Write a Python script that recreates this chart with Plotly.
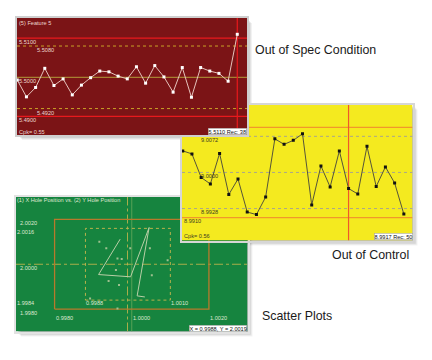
import plotly.graph_objects as go

# ---------------- data ----------------
# Panel 1: Out of Spec Condition (red)
red_records = list(range(14, 39))
red_values = [5.4993, 5.4950, 5.4974, 5.5023, 5.4979, 5.4996, 5.4955, 5.4980, 5.4999,
              5.5016, 5.5014, 5.5003, 5.4996, 5.5027, 5.4985, 5.5030, 5.5001, 5.4962,
              5.5025, 5.4949, 5.5025, 5.5016, 5.5010, 5.4990, 5.5110]
red_usl, red_ucl, red_center, red_lcl, red_lsl = 5.5100, 5.5080, 5.5000, 5.4920, 5.4900
red_cursor = 38
red_xrange = [13.97, 39.06]
red_yrange = [5.48524, 5.51517]
red_title = "(5) Feature 5"
red_cpk = "Cpk= 0.55"
red_readout = "5.5110 Rec: 38"

# Panel 2: Out of Control (yellow)
yel_records = list(range(26, 51))
yel_values = [9.0043, 9.0037, 8.9990, 8.9977, 9.0038, 8.9956, 8.9987, 8.9921, 8.9916,
              8.9951, 9.0067, 9.0056, 9.0064, 9.0077, 8.9935, 9.0013, 8.9971, 9.0043,
              8.9968, 8.9957, 9.0052, 8.9972, 9.0011, 8.9979, 8.9917]
yel_usl, yel_ucl, yel_center, yel_lcl, yel_lsl = 9.0090, 9.0072, 9.0000, 8.9928, 8.9910
yel_cursor = 44
yel_xrange = [25.92, 50.94]
yel_yrange = [8.98643, 9.01355]
yel_cpk = "Cpk= 0.56"
yel_readout = "8.9917 Rec: 50"

# Panel 3: Scatter Plots (green)
grn_path_x = [0.99970, 0.99914, 0.99997, 1.00045, 1.00014, 1.00034]
grn_path_y = [2.00112, 1.99954, 1.99944, 2.00164, 1.99859, 1.99854]
grn_pts_x = [0.99916, 0.99934, 0.99963, 0.99974, 0.99996, 1.00047, 0.99959, 0.99940,
             0.99967, 1.00052, 1.00093, 0.99892, 0.99963]
grn_pts_y = [2.00100, 2.00071, 2.00026, 2.00023, 2.00071, 2.00071, 1.99974, 1.99925,
             1.99907, 1.99951, 2.00018, 1.99847, 1.99803]
grn_spec_x = [0.9980, 1.0020]
grn_spec_y = [1.9980, 2.0020]
grn_ctrl_x = [0.9988, 1.0010]
grn_ctrl_y = [1.9984, 2.0016]
grn_mean_x = 0.99989
grn_nom_x = 1.0000
grn_center_y = 2.0000
grn_xrange = [0.997, 1.003]
grn_yrange = [1.997, 2.003]
grn_title = "(1) X Hole Position vs. (2) Y Hole Position"
grn_readout = "X = 0.9988, Y = 2.0019"

captions = ["Out of Spec Condition", "Out of Control", "Scatter Plots"]

# ---------------- layout helpers ----------------
W, H = 432, 360
# panel pixel boxes (left, top, right, bottom)
box_grn = (16, 197, 247.5, 331.5)
box_yel = (182, 104.5, 412.5, 240.5)
box_red = (17, 18, 247, 135)


def dom(b):
    return [b[0] / W, b[2] / W], [1 - b[3] / H, 1 - b[1] / H]


fig = go.Figure()

TINY = dict(family="Liberation Sans", size=5.6)


def hline(xa, ya, xr, y, color, dash="solid", width=1):
    fig.add_trace(go.Scatter(x=[xr[0], xr[1]], y=[y, y], mode="lines", xaxis=xa, yaxis=ya,
                             line=dict(color=color, dash=dash, width=width),
                             hoverinfo="skip", showlegend=False))


def vline(xa, ya, yr, x, color, dash="solid", width=1):
    fig.add_trace(go.Scatter(x=[x, x], y=[yr[0], yr[1]], mode="lines", xaxis=xa, yaxis=ya,
                             line=dict(color=color, dash=dash, width=width),
                             hoverinfo="skip", showlegend=False))


# ---------- green scatter panel (bottom of stack) ----------
g_ctrl_color = "#b9b24c"
hline("x", "y", grn_xrange, grn_center_y, g_ctrl_color, "dashdot", 0.9)
vline("x", "y", grn_yrange, grn_mean_x, g_ctrl_color, "dashdot", 0.9)
vline("x", "y", grn_yrange, grn_nom_x, "#5da559", "solid", 0.9)
fig.add_trace(go.Scatter(x=[grn_spec_x[0], grn_spec_x[1], grn_spec_x[1], grn_spec_x[0], grn_spec_x[0]],
                         y=[grn_spec_y[0], grn_spec_y[0], grn_spec_y[1], grn_spec_y[1], grn_spec_y[0]],
                         mode="lines", line=dict(color="#b8792c", width=1.3), xaxis="x", yaxis="y",
                         hoverinfo="skip", showlegend=False))
fig.add_trace(go.Scatter(x=[grn_ctrl_x[0], grn_ctrl_x[1], grn_ctrl_x[1], grn_ctrl_x[0], grn_ctrl_x[0]],
                         y=[grn_ctrl_y[0], grn_ctrl_y[0], grn_ctrl_y[1], grn_ctrl_y[1], grn_ctrl_y[0]],
                         mode="lines", line=dict(color=g_ctrl_color, width=1, dash="dot"), xaxis="x", yaxis="y",
                         hoverinfo="skip", showlegend=False))
fig.add_trace(go.Scatter(x=grn_path_x, y=grn_path_y, mode="lines", xaxis="x", yaxis="y",
                         line=dict(color="#b9cfa6", width=1), hoverinfo="skip", showlegend=False))
fig.add_trace(go.Scatter(x=grn_pts_x, y=grn_pts_y, mode="markers", xaxis="x", yaxis="y",
                         marker=dict(color="#9fc08f", size=2, symbol="square"),
                         hoverinfo="skip", showlegend=False))

# ---------- yellow control chart ----------
hline("x2", "y2", yel_xrange, yel_usl, "#f1982a", width=1.2)
hline("x2", "y2", yel_xrange, yel_lsl, "#f1982a", width=1.2)
for v in (yel_ucl, yel_center, yel_lcl):
    hline("x2", "y2", yel_xrange, v, "#a9a68a", "dot", 1)
vline("x2", "y2", yel_yrange, yel_cursor, "#f0582a", width=1.2)
fig.add_trace(go.Scatter(x=yel_records, y=yel_values, mode="lines+markers", xaxis="x2", yaxis="y2",
                         line=dict(color="#55543a", width=1),
                         marker=dict(color="#111111", size=3, symbol="square"),
                         hoverinfo="skip", showlegend=False))

# ---------- red out-of-spec chart (top of stack) ----------
hline("x3", "y3", red_xrange, red_usl, "#e8191d", width=1.2)
hline("x3", "y3", red_xrange, red_lsl, "#e8191d", width=1.2)
hline("x3", "y3", red_xrange, red_ucl, "#c9a227", "dot", 1)
hline("x3", "y3", red_xrange, red_lcl, "#c9a227", "dot", 1)
hline("x3", "y3", red_xrange, red_center, "#b39b3a", width=1)
vline("x3", "y3", red_yrange, red_cursor, "#e8191d", width=1.2)
fig.add_trace(go.Scatter(x=red_records, y=red_values, mode="lines+markers", xaxis="x3", yaxis="y3",
                         line=dict(color="#e6c3bc", width=1),
                         marker=dict(color="#ffffff", size=3, symbol="square"),
                         hoverinfo="skip", showlegend=False))

# ---------------- axes ----------------
axis_common = dict(showgrid=False, zeroline=False, showticklabels=False, ticks="",
                   showline=True, mirror=True, fixedrange=True)
gx, gy = dom(box_grn)
yx, yy = dom(box_yel)
rx, ry = dom(box_red)
fig.update_layout(
    xaxis=dict(domain=gx, range=grn_xrange, anchor="y", linecolor="#e2e2e2", linewidth=2, **axis_common),
    yaxis=dict(domain=gy, range=grn_yrange, anchor="x", linecolor="#e2e2e2", linewidth=2, **axis_common),
    xaxis2=dict(domain=yx, range=yel_xrange, anchor="y2", linecolor="#d6d6d6", linewidth=2, **axis_common),
    yaxis2=dict(domain=yy, range=yel_yrange, anchor="x2", linecolor="#d6d6d6", linewidth=2, **axis_common),
    xaxis3=dict(domain=rx, range=red_xrange, anchor="y3", linecolor="#cfcfcf", linewidth=2, **axis_common),
    yaxis3=dict(domain=ry, range=red_yrange, anchor="x3", linecolor="#cfcfcf", linewidth=2, **axis_common),
)

# ---------------- backgrounds + shadows ----------------
shapes = []
for b in (box_grn, box_yel, box_red):
    for off, op in ((5, 0.05), (4, 0.06), (3, 0.08), (2, 0.10)):
        shapes.append(dict(type="rect", xref="paper", yref="paper",
                           x0=(b[0] + off) / W, x1=(b[2] + off) / W,
                           y0=1 - (b[3] + off) / H, y1=1 - (b[1] + off) / H,
                           fillcolor=f"rgba(0,0,0,{op})", line=dict(width=0), layer="below"))
for xa, ya, xr, yr, col in (("x", "y", grn_xrange, grn_yrange, "#16843f"),
                            ("x2", "y2", yel_xrange, yel_yrange, "#f4ea1f"),
                            ("x3", "y3", red_xrange, red_yrange, "#7b1416")):
    shapes.append(dict(type="rect", xref=xa, yref=ya, x0=xr[0], x1=xr[1], y0=yr[0], y1=yr[1],
                       fillcolor=col, line=dict(width=0), layer="below"))
fig.update_layout(shapes=shapes)

# ---------------- annotations ----------------
ann = []


def label(text, xref, yref, x, y, color, xanchor="left", yanchor="middle", yshift=0, **kw):
    ann.append(dict(text=text, xref=xref, yref=yref, x=x, y=y, showarrow=False,
                    xanchor=xanchor, yanchor=yanchor, yshift=yshift,
                    font=dict(TINY, color=color), borderpad=0, **kw))


rc = "#ecd6cf"
label(red_title, "x3 domain", "y3 domain", 0.004, 0.96, rc)
label(f"{red_usl:.4f}", "x3 domain", "y3", 0.004, red_usl, rc, yshift=-3.5)
label(f"{red_ucl:.4f}", "x3 domain", "y3", 0.083, red_ucl, rc, yshift=-3.5)
label(f"{red_center:.4f}", "x3 domain", "y3", 0.004, red_center, rc, yshift=-4)
label(f"{red_lcl:.4f}", "x3 domain", "y3", 0.083, red_lcl, rc, yshift=-4)
label(f"{red_lsl:.4f}", "x3 domain", "y3", 0.004, red_lsl, rc, yshift=-3.5)
label(red_cpk, "x3 domain", "y3 domain", 0.004, 0.025, rc)
label(red_readout, "x3 domain", "y3 domain", 1.0, 0.0, "#111111", xanchor="right", yanchor="bottom",
      bgcolor="#ffffff", bordercolor="#9a9a9a", borderwidth=0.5)

yc = "#3d3b22"
label(f"{yel_ucl:.4f}", "x2 domain", "y2", 0.078, yel_ucl, yc, yshift=-3.5)
label(f"{yel_center:.4f}", "x2 domain", "y2", 0.078, yel_center, yc, yshift=-4)
label(f"{yel_lcl:.4f}", "x2 domain", "y2", 0.078, yel_lcl, yc, yshift=-3.5)
label(f"{yel_lsl:.4f}", "x2 domain", "y2", 0.004, yel_lsl, yc, yshift=-3.5)
label(yel_cpk, "x2 domain", "y2 domain", 0.004, 0.03, yc)
label(yel_readout, "x2 domain", "y2 domain", 1.0, 0.0, "#111111", xanchor="right", yanchor="bottom",
      bgcolor="#ffffff", bordercolor="#9a9a9a", borderwidth=0.5)

gc = "#dfe8d2"
label(grn_title, "x domain", "y domain", 0.0, 0.977, gc)
label(f"{grn_spec_y[1]:.4f}", "x domain", "y", 0.013, grn_spec_y[1], gc, yshift=-3.5)
label(f"{grn_ctrl_y[1]:.4f}", "x domain", "y", 0.0, grn_ctrl_y[1], gc, yshift=-4)
label(f"{grn_center_y:.4f}", "x domain", "y", 0.013, grn_center_y, gc, yshift=-3.7)
label(f"{grn_ctrl_y[0]:.4f}", "x domain", "y", 0.0, grn_ctrl_y[0], gc, yshift=-3.3)
label(f"{grn_spec_y[0]:.4f}", "x domain", "y", 0.013, grn_spec_y[0], gc, yshift=-3.7)
for xv in grn_spec_x + [grn_nom_x]:
    label(f"{xv:.4f}", "x", "y domain", xv, 0.1, gc)
for xv in grn_ctrl_x:
    label(f"{xv:.4f}", "x", "y domain", xv, 0.21, gc)
label(grn_readout, "x domain", "y domain", 1.0, 0.0, "#111111", xanchor="right", yanchor="bottom",
      bgcolor="#ffffff", bordercolor="#9a9a9a", borderwidth=0.5)

cap_pos = [(254 / W, 1 - 50 / H), (331 / W, 1 - 255 / H), (261 / W, 1 - 316 / H)]
for t, (cx, cy) in zip(captions, cap_pos):
    ann.append(dict(text=t, xref="paper", yref="paper", x=cx, y=cy, showarrow=False,
                    xanchor="left", yanchor="middle", borderpad=0,
                    font=dict(family="Liberation Sans", size=12.4, color="#1a1a1a")))

fig.update_layout(annotations=ann, width=W, height=H, margin=dict(l=0, r=0, t=0, b=0),
                  paper_bgcolor="#ffffff", plot_bgcolor="rgba(0,0,0,0)", showlegend=False)

fig.write_html("out.html", config={"displayModeBar": False})
